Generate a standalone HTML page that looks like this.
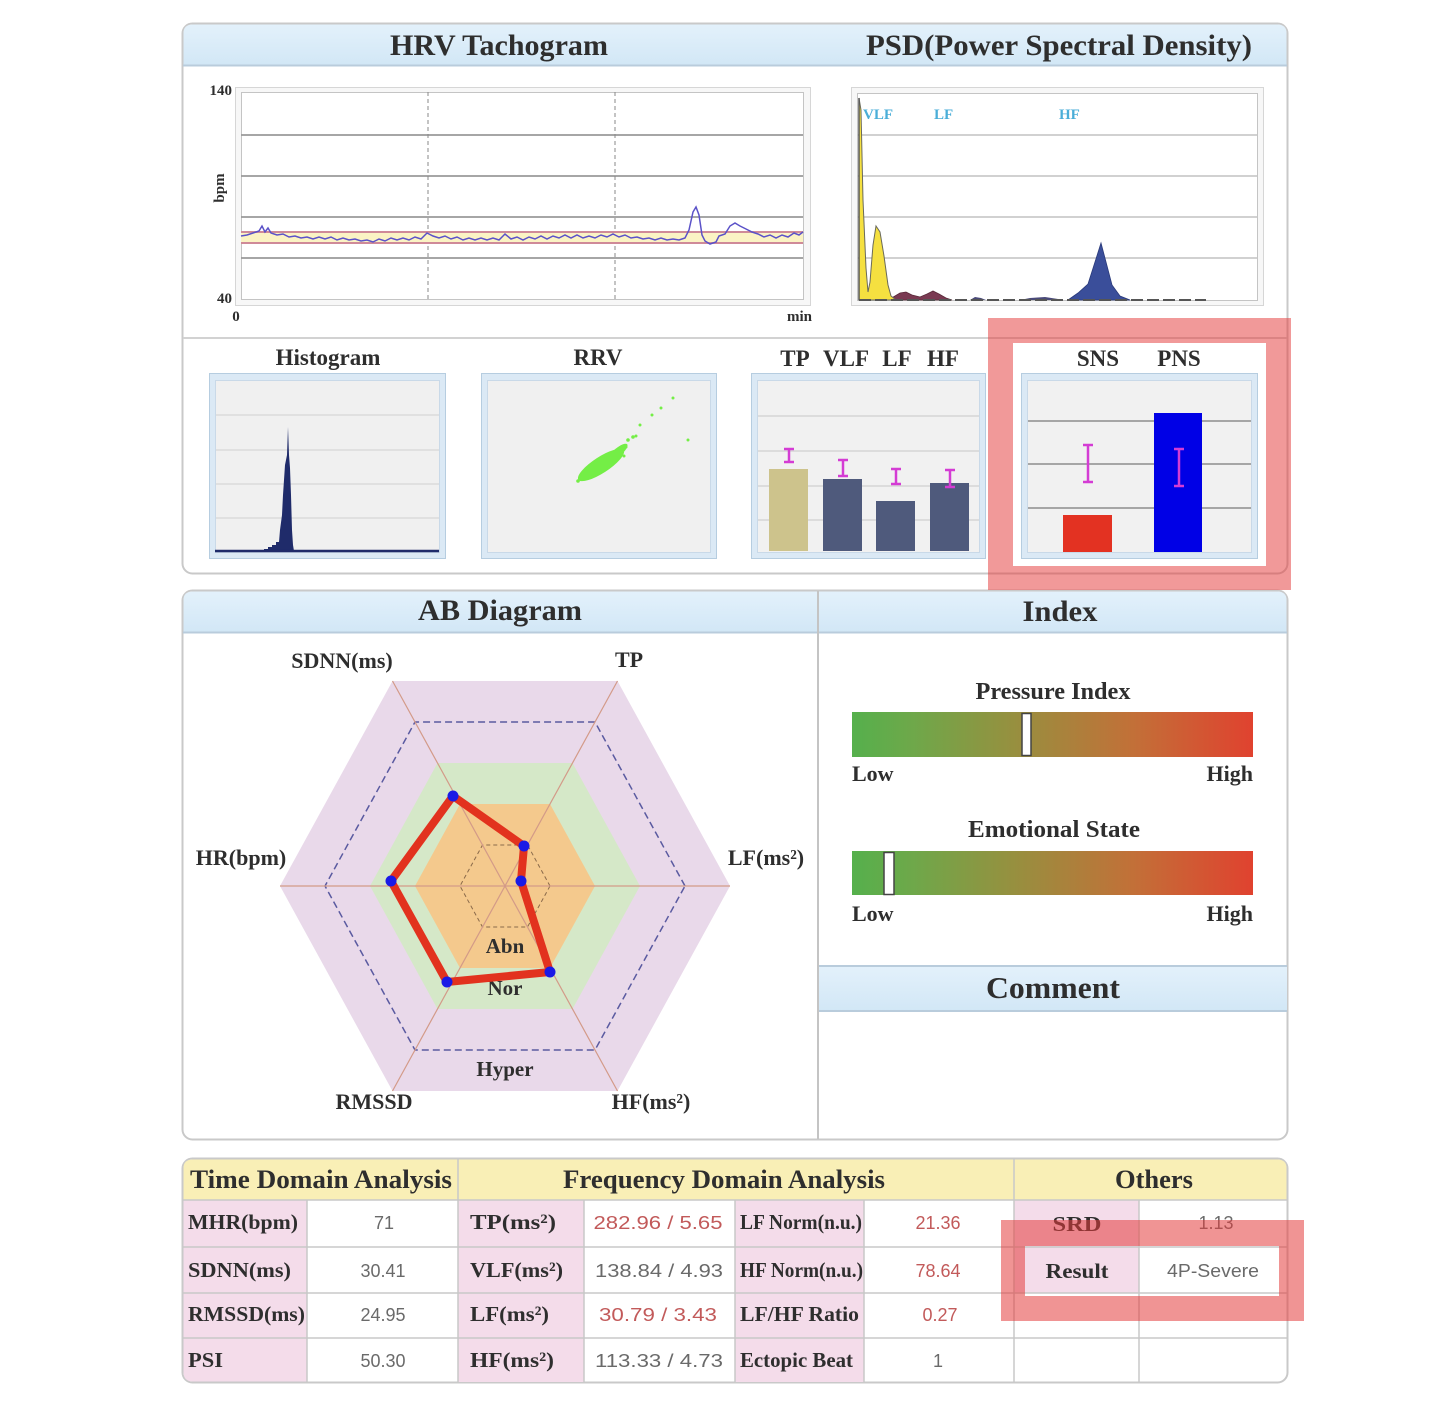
<!DOCTYPE html>
<html><head><meta charset="utf-8"><style>
html,body{margin:0;padding:0;background:#fff;}
svg{display:block;}
.t{font-family:"Liberation Serif",serif;font-weight:bold;fill:#2e2e2e;}
.v{font-family:"Liberation Sans",sans-serif;fill:#6a6a6a;}
.r{fill:#c25a5a;}
</style></head><body>
<svg width="1444" height="1404" viewBox="0 0 1444 1404" xmlns="http://www.w3.org/2000/svg">
<defs>
<linearGradient id="hdr" x1="0" y1="0" x2="0" y2="1"><stop offset="0" stop-color="#e3f1fb"/><stop offset="1" stop-color="#d2e7f6"/></linearGradient>
<linearGradient id="idx" x1="0" y1="0" x2="1" y2="0"><stop offset="0" stop-color="#55b04c"/><stop offset="0.15" stop-color="#6ea84a"/><stop offset="0.4" stop-color="#96903f"/><stop offset="0.7" stop-color="#c27038"/><stop offset="1" stop-color="#e0422f"/></linearGradient>
</defs>

<!-- ===== TOP PANEL ===== -->
<rect x="182.5" y="23.5" width="1105" height="550" rx="10" fill="#fff" stroke="#c9c9c9" stroke-width="2"/>
<path d="M183.5,65 L183.5,33 Q183.5,24.5 193,24.5 L1277,24.5 Q1286.5,24.5 1286.5,33 L1286.5,65 Z" fill="url(#hdr)"/>
<line x1="183" y1="65.5" x2="1287" y2="65.5" stroke="#b9ccdc" stroke-width="2"/>
<text class="t" x="499" y="55" font-size="30" text-anchor="middle" textLength="218" lengthAdjust="spacingAndGlyphs">HRV Tachogram</text>
<text class="t" x="1059" y="55" font-size="30" text-anchor="middle" textLength="386" lengthAdjust="spacingAndGlyphs">PSD(Power Spectral Density)</text>

<!-- Tachogram -->
<rect x="235.5" y="87.5" width="575" height="218" fill="#f7f7f7" stroke="#d6d6d6"/>
<rect x="241.5" y="92.5" width="562" height="207" fill="#fff" stroke="#c4c4c4"/>
<g stroke="#9a9a9a" stroke-width="1.8">
<line x1="241" y1="135" x2="803" y2="135"/><line x1="241" y1="176" x2="803" y2="176"/>
<line x1="241" y1="217" x2="803" y2="217"/><line x1="241" y1="258" x2="803" y2="258"/>
</g>
<g stroke="#8a8a8a" stroke-width="1" stroke-dasharray="4,3">
<line x1="428" y1="92" x2="428" y2="299"/><line x1="615" y1="92" x2="615" y2="299"/>
</g>
<rect x="241" y="232" width="562" height="11" fill="#fbf3c4"/>
<line x1="241" y1="232" x2="803" y2="232" stroke="#cf8a98" stroke-width="2"/>
<line x1="241" y1="243" x2="803" y2="243" stroke="#cf8a98" stroke-width="2"/>
<polyline fill="none" stroke="#5b52c8" stroke-width="1.5" points="241,236 247,235 253,233 259,231 262,226 265,232 268,228 271,233 277,235 283,234 289,237 295,236 301,238 307,237 313,239 319,237 325,239 331,237 337,240 343,238 349,240 355,239 361,241 367,240 373,242 379,239 385,241 391,238 397,240 403,238 409,240 415,237 421,239 427,233 433,236 439,238 445,236 451,239 457,237 463,240 469,238 475,240 481,238 487,240 493,238 499,240 505,234 511,239 517,237 523,240 529,237 535,239 541,236 547,239 553,236 559,238 565,235 571,238 577,235 583,238 589,236 595,238 601,235 607,237 613,234 619,237 625,235 631,238 637,237 643,239 649,238 655,240 661,238 667,240 673,239 679,240 685,238 689,230 693,212 696,207 699,215 702,235 705,241 710,244 716,242 719,236 725,234 730,226 735,223 740,226 746,229 752,232 758,234 764,237 770,235 776,238 782,235 788,237 794,233 799,235 803,232"/>
<text class="t" x="232" y="95" font-size="15" text-anchor="end">140</text>
<text class="t" x="232" y="303" font-size="15" text-anchor="end">40</text>
<text class="t" x="236" y="321" font-size="15" text-anchor="middle">0</text>
<text class="t" x="812" y="321" font-size="15" text-anchor="end">min</text>
<text class="t" x="224" y="188" font-size="15" text-anchor="middle" transform="rotate(-90 224 188)">bpm</text>

<!-- PSD -->
<rect x="851.5" y="87.5" width="412" height="218" fill="#f7f7f7" stroke="#d6d6d6"/>
<rect x="857.5" y="93.5" width="400" height="207" fill="#fff" stroke="#c4c4c4"/>
<g stroke="#c2c2c2" stroke-width="1.5">
<line x1="857" y1="135" x2="1257" y2="135"/><line x1="857" y1="176" x2="1257" y2="176"/>
<line x1="857" y1="217" x2="1257" y2="217"/><line x1="857" y1="258" x2="1257" y2="258"/>
</g>
<path d="M888,300 L895,296 L900,293 L906,292 L912,295 L920,297 L927,294 L933,291 L939,294 L946,298 L952,300 Z" fill="#7a3a52" stroke="#5a2a3a" stroke-width="0.8"/>
<path d="M970,300 L975,297 L981,298 L986,300 Z M1020,300 L1030,298 L1045,297 L1058,299 L1062,300 Z" fill="#4a4a7a"/>
<path d="M859,300 L859,98 L861,110 L863,200 L866,268 L868,292 L870,282 L873,245 L876,226 L880,232 L884,256 L888,285 L891,296 L896,300 Z" fill="#f5e040" stroke="#6a6a5a" stroke-width="1"/>
<path d="M1068,300 L1078,293 L1088,284 L1095,262 L1101,243 L1106,262 L1112,285 L1120,296 L1130,300 Z" fill="#3a4e9a" stroke="#2a3a7a" stroke-width="0.8"/>
<line x1="859" y1="300" x2="1206" y2="300" stroke="#555" stroke-width="2" stroke-dasharray="12,4"/>
<line x1="859" y1="98" x2="859" y2="300" stroke="#555" stroke-width="1.5"/>
<g font-size="15" style="fill:#4aaed8" class="t">
<text x="863" y="119" style="fill:#4aaed8">VLF</text>
<text x="934" y="119" style="fill:#4aaed8">LF</text>
<text x="1059" y="119" style="fill:#4aaed8">HF</text>
</g>

<line x1="183" y1="338" x2="1287" y2="338" stroke="#d2d2d2" stroke-width="2"/>

<!-- small chart titles -->
<text class="t" x="328" y="365" font-size="23" text-anchor="middle">Histogram</text>
<text class="t" x="598" y="365" font-size="23" text-anchor="middle">RRV</text>
<text class="t" x="795" y="366" font-size="23" text-anchor="middle">TP</text>
<text class="t" x="846" y="366" font-size="23" text-anchor="middle">VLF</text>
<text class="t" x="897" y="366" font-size="23" text-anchor="middle">LF</text>
<text class="t" x="943" y="366" font-size="23" text-anchor="middle">HF</text>
<text class="t" x="1098" y="366" font-size="23" text-anchor="middle">SNS</text>
<text class="t" x="1179" y="366" font-size="23" text-anchor="middle">PNS</text>

<!-- Histogram -->
<rect x="209.5" y="373.5" width="236" height="185" fill="#dbe9f5" stroke="#b6cde0"/>
<rect x="215.5" y="380.5" width="224" height="172" fill="#f0f0f0" stroke="#c9d9e8"/>
<g stroke="#dadada" stroke-width="1.5">
<line x1="216" y1="415" x2="439" y2="415"/><line x1="216" y1="450" x2="439" y2="450"/>
<line x1="216" y1="484" x2="439" y2="484"/><line x1="216" y1="518" x2="439" y2="518"/>
</g>
<path d="M264,551 L264,549 L268,549 L268,547 L272,547 L272,545 L276,545 L276,542 L279,542 L280,530 L282,515 L283,495 L284,480 L285,465 L287,455 L288,427 L289,455 L290,468 L291,495 L292,530 L293,545 L294,551 Z" fill="#1f2b6a"/>
<line x1="215" y1="551" x2="439" y2="551" stroke="#1f2b6a" stroke-width="2.5"/>

<!-- RRV -->
<rect x="481.5" y="373.5" width="235" height="185" fill="#dbe9f5" stroke="#b6cde0"/>
<rect x="487.5" y="380.5" width="223" height="172" fill="#f0f0f0" stroke="#c9d9e8"/>
<g fill="#74ee46">
<ellipse cx="601" cy="465" rx="27" ry="8" transform="rotate(-33 601 465)"/>
<ellipse cx="618" cy="452" rx="12" ry="4" transform="rotate(-40 618 452)"/>
<circle cx="578" cy="481" r="1.8"/><circle cx="582" cy="477" r="1.8"/><circle cx="628" cy="440" r="1.8"/>
<circle cx="633" cy="437" r="1.8"/><circle cx="624" cy="456" r="1.5"/><circle cx="640" cy="425" r="1.5"/>
<circle cx="652" cy="415" r="1.5"/><circle cx="661" cy="408" r="1.5"/><circle cx="673" cy="398" r="1.5"/>
<circle cx="688" cy="440" r="1.5"/><circle cx="636" cy="436" r="1.5"/><circle cx="626" cy="447" r="1.5"/>
</g>

<!-- Bars TP VLF LF HF -->
<rect x="751.5" y="373.5" width="234" height="185" fill="#dbe9f5" stroke="#b6cde0"/>
<rect x="757.5" y="380.5" width="222" height="172" fill="#f1f1f1" stroke="#c9d9e8"/>
<g stroke="#d5d5d5" stroke-width="1.5">
<line x1="758" y1="416" x2="979" y2="416"/><line x1="758" y1="451" x2="979" y2="451"/>
<line x1="758" y1="486" x2="979" y2="486"/><line x1="758" y1="520" x2="979" y2="520"/>
</g>
<rect x="769" y="469" width="39" height="82" fill="#cdc38c"/>
<rect x="823" y="479" width="39" height="72" fill="#4f5a7c"/>
<rect x="876" y="501" width="39" height="50" fill="#4f5a7c"/>
<rect x="930" y="483" width="39" height="68" fill="#4f5a7c"/>
<g stroke="#d43cd4" stroke-width="2.5" fill="none">
<path d="M784,449 H794 M789,449 V462 M784,462 H794"/>
<path d="M838,460 H848 M843,460 V476 M838,476 H848"/>
<path d="M891,469 H901 M896,469 V484 M891,484 H901"/>
<path d="M945,470 H955 M950,470 V487 M945,487 H955"/>
</g>

<!-- SNS PNS -->
<rect x="1021.5" y="373.5" width="236" height="185" fill="#dbe9f5" stroke="#b6cde0"/>
<rect x="1027.5" y="380.5" width="224" height="172" fill="#f1f1f1" stroke="#c9d9e8"/>
<g stroke="#7a7a7a" stroke-width="1.2">
<line x1="1028" y1="421" x2="1251" y2="421"/><line x1="1028" y1="464" x2="1251" y2="464"/>
<line x1="1028" y1="508" x2="1251" y2="508"/>
</g>
<rect x="1063" y="515" width="49" height="37" fill="#e33222"/>
<rect x="1154" y="413" width="48" height="139" fill="#0000e6"/>
<g stroke="#d43cd4" stroke-width="2.5" fill="none">
<path d="M1083,445 H1093 M1088,445 V482 M1083,482 H1093"/>
<path d="M1174,449 H1184 M1179,449 V486 M1174,486 H1184"/>
</g>

<!-- ===== MIDDLE PANEL ===== -->
<rect x="182.5" y="590.5" width="1105" height="549" rx="10" fill="#fff" stroke="#c9c9c9" stroke-width="2"/>
<path d="M183.5,632 L183.5,600 Q183.5,591.5 193,591.5 L1277,591.5 Q1286.5,591.5 1286.5,600 L1286.5,632 Z" fill="url(#hdr)"/>
<line x1="183" y1="632.5" x2="1287" y2="632.5" stroke="#b9ccdc" stroke-width="2"/>
<line x1="818" y1="591" x2="818" y2="1139" stroke="#c4c4c4" stroke-width="2"/>
<text class="t" x="500" y="620" font-size="30" text-anchor="middle" textLength="164" lengthAdjust="spacingAndGlyphs">AB Diagram</text>
<text class="t" x="1060" y="621" font-size="30" text-anchor="middle" textLength="75" lengthAdjust="spacingAndGlyphs">Index</text>

<!-- Radar -->
<polygon points="730,886 617.5,681 392.5,681 280,886 392.5,1091 617.5,1091" fill="#e9d9ea"/>
<polygon points="640,886 572.5,763 437.5,763 370,886 437.5,1009 572.5,1009" fill="#d5e8c8"/>
<polygon points="595,886 550,804 460,804 415,886 460,968 550,968" fill="#f4c98d"/>
<polygon points="685,886 595,722 415,722 325,886 415,1050 595,1050" fill="none" stroke="#5a5aa0" stroke-width="1.5" stroke-dasharray="7,4"/>
<polygon points="550,886 527.5,845 482.5,845 460,886 482.5,927 527.5,927" fill="none" stroke="#8a6a4a" stroke-width="1" stroke-dasharray="4,3"/>
<g stroke="#d39a88" stroke-width="1.2">
<line x1="392.5" y1="681" x2="617.5" y2="1091"/>
<line x1="617.5" y1="681" x2="392.5" y2="1091"/>
<line x1="280" y1="886" x2="730" y2="886"/>
</g>
<text class="t" x="505" y="953" font-size="21" text-anchor="middle">Abn</text>
<text class="t" x="505" y="995" font-size="21" text-anchor="middle">Nor</text>
<text class="t" x="505" y="1076" font-size="21" text-anchor="middle">Hyper</text>
<polygon points="453,796 524,846 521,881 550,972 447,982 391,881" fill="none" stroke="#e2321e" stroke-width="8" stroke-linejoin="round"/>
<g fill="#1a1ae6">
<circle cx="453" cy="796" r="5.5"/><circle cx="524" cy="846" r="5.5"/><circle cx="521" cy="881" r="5.5"/>
<circle cx="550" cy="972" r="5.5"/><circle cx="447" cy="982" r="5.5"/><circle cx="391" cy="881" r="5.5"/>
</g>
<text class="t" x="342" y="668" font-size="22" text-anchor="middle">SDNN(ms)</text>
<text class="t" x="629" y="667" font-size="22" text-anchor="middle">TP</text>
<text class="t" x="241" y="865" font-size="22" text-anchor="middle">HR(bpm)</text>
<text class="t" x="766" y="865" font-size="22" text-anchor="middle">LF(ms²)</text>
<text class="t" x="374" y="1109" font-size="22" text-anchor="middle">RMSSD</text>
<text class="t" x="651" y="1109" font-size="22" text-anchor="middle">HF(ms²)</text>

<!-- Index -->
<text class="t" x="1053" y="699" font-size="24" text-anchor="middle" textLength="155" lengthAdjust="spacingAndGlyphs">Pressure Index</text>
<rect x="852" y="712" width="401" height="45" fill="url(#idx)"/>
<rect x="1022" y="713.5" width="9" height="42" fill="#fff" stroke="#444" stroke-width="1.5"/>
<text class="t" x="852" y="781" font-size="22">Low</text>
<text class="t" x="1253" y="781" font-size="22" text-anchor="end">High</text>
<text class="t" x="1054" y="837" font-size="24" text-anchor="middle" textLength="172" lengthAdjust="spacingAndGlyphs">Emotional State</text>
<rect x="852" y="851" width="401" height="44" fill="url(#idx)"/>
<rect x="884" y="852.5" width="10" height="42" fill="#fff" stroke="#444" stroke-width="1.5"/>
<text class="t" x="852" y="921" font-size="22">Low</text>
<text class="t" x="1253" y="921" font-size="22" text-anchor="end">High</text>

<!-- Comment -->
<rect x="819" y="966" width="468" height="45" fill="url(#hdr)"/>
<line x1="819" y1="966" x2="1287" y2="966" stroke="#b9ccdc" stroke-width="2"/>
<line x1="819" y1="1011" x2="1287" y2="1011" stroke="#b9ccdc" stroke-width="2"/>
<text class="t" x="1053" y="998" font-size="31" text-anchor="middle" textLength="134" lengthAdjust="spacingAndGlyphs">Comment</text>

<!-- ===== TABLE ===== -->
<rect x="182.5" y="1158.5" width="1105" height="224" rx="10" fill="#fff" stroke="#c9c9c9" stroke-width="2"/>
<path d="M183.5,1200 L183.5,1168 Q183.5,1159.5 193,1159.5 L1277,1159.5 Q1286.5,1159.5 1286.5,1168 L1286.5,1200 Z" fill="#f9efb6"/>
<!-- pink label columns -->
<g fill="#f4dcea">
<path d="M183.5,1200 H307 V1381.5 H193 Q183.5,1381.5 183.5,1372 Z"/>
<rect x="458" y="1200" width="126" height="182"/>
<rect x="735" y="1200" width="129" height="182"/>
<rect x="1014" y="1200" width="125" height="93"/>
</g>
<g stroke="#c8c8c8" stroke-width="1.5">
<line x1="183" y1="1200" x2="1287" y2="1200"/>
<line x1="183" y1="1247" x2="1287" y2="1247"/>
<line x1="183" y1="1293" x2="1287" y2="1293"/>
<line x1="183" y1="1338" x2="1287" y2="1338"/>
<line x1="307" y1="1200" x2="307" y2="1382"/>
<line x1="458" y1="1159" x2="458" y2="1382"/>
<line x1="584" y1="1200" x2="584" y2="1382"/>
<line x1="735" y1="1200" x2="735" y2="1382"/>
<line x1="864" y1="1200" x2="864" y2="1382"/>
<line x1="1014" y1="1159" x2="1014" y2="1382"/>
<line x1="1139" y1="1200" x2="1139" y2="1382"/>
</g>
<text class="t" x="321" y="1188" font-size="26" text-anchor="middle" textLength="262" lengthAdjust="spacingAndGlyphs">Time Domain Analysis</text>
<text class="t" x="724" y="1188" font-size="26" text-anchor="middle" textLength="322" lengthAdjust="spacingAndGlyphs">Frequency Domain Analysis</text>
<text class="t" x="1154" y="1188" font-size="26" text-anchor="middle" textLength="78" lengthAdjust="spacingAndGlyphs">Others</text>

<g class="t" font-size="21">
<text x="188" y="1229" textLength="110" lengthAdjust="spacingAndGlyphs">MHR(bpm)</text>
<text x="188" y="1277" textLength="103" lengthAdjust="spacingAndGlyphs">SDNN(ms)</text>
<text x="188" y="1321" textLength="117" lengthAdjust="spacingAndGlyphs">RMSSD(ms)</text>
<text x="188" y="1367" textLength="35" lengthAdjust="spacingAndGlyphs">PSI</text>
<text x="470" y="1229" textLength="86" lengthAdjust="spacingAndGlyphs">TP(ms²)</text>
<text x="470" y="1277" textLength="93" lengthAdjust="spacingAndGlyphs">VLF(ms²)</text>
<text x="470" y="1321" textLength="79" lengthAdjust="spacingAndGlyphs">LF(ms²)</text>
<text x="470" y="1367" textLength="84" lengthAdjust="spacingAndGlyphs">HF(ms²)</text>
<text x="740" y="1229" textLength="122" lengthAdjust="spacingAndGlyphs">LF Norm(n.u.)</text>
<text x="740" y="1277" textLength="123" lengthAdjust="spacingAndGlyphs">HF Norm(n.u.)</text>
<text x="740" y="1321" textLength="119" lengthAdjust="spacingAndGlyphs">LF/HF Ratio</text>
<text x="740" y="1367" textLength="113" lengthAdjust="spacingAndGlyphs">Ectopic Beat</text>
<text x="1077" y="1231" text-anchor="middle" textLength="49" lengthAdjust="spacingAndGlyphs">SRD</text>
<text x="1077" y="1278" text-anchor="middle" textLength="63" lengthAdjust="spacingAndGlyphs">Result</text>
</g>
<g class="v" font-size="18" text-anchor="middle">
<text x="384" y="1229">71</text>
<text x="383" y="1277">30.41</text>
<text x="383" y="1321">24.95</text>
<text x="383" y="1367">50.30</text>
<text x="658" y="1229" class="v r" textLength="129" lengthAdjust="spacingAndGlyphs">282.96 /  5.65</text>
<text x="659" y="1277" textLength="128" lengthAdjust="spacingAndGlyphs">138.84 /  4.93</text>
<text x="658" y="1321" class="v r" textLength="118" lengthAdjust="spacingAndGlyphs">30.79 /  3.43</text>
<text x="659" y="1367" textLength="128" lengthAdjust="spacingAndGlyphs">113.33 /  4.73</text>
<text x="938" y="1229" class="v r">21.36</text>
<text x="938" y="1277" class="v r">78.64</text>
<text x="940" y="1321" class="v r">0.27</text>
<text x="938" y="1367">1</text>
<text x="1216" y="1229">1.13</text>
<text x="1213" y="1277" textLength="92" lengthAdjust="spacingAndGlyphs">4P-Severe</text>
</g>

<!-- ===== Highlight overlays ===== -->
<path fill-rule="evenodd" fill="rgba(228,60,60,0.52)" d="M988,318 H1291 V590 H988 Z M1013,343 V566 H1266 V343 Z"/>
<rect x="1013" y="343" width="253" height="223" fill="none"/>
<path fill-rule="evenodd" fill="rgba(228,60,60,0.55)" d="M1001,1220 H1304 V1321 H1001 Z M1025,1246 V1296 H1279 V1246 Z"/>
</svg>
</body></html>
